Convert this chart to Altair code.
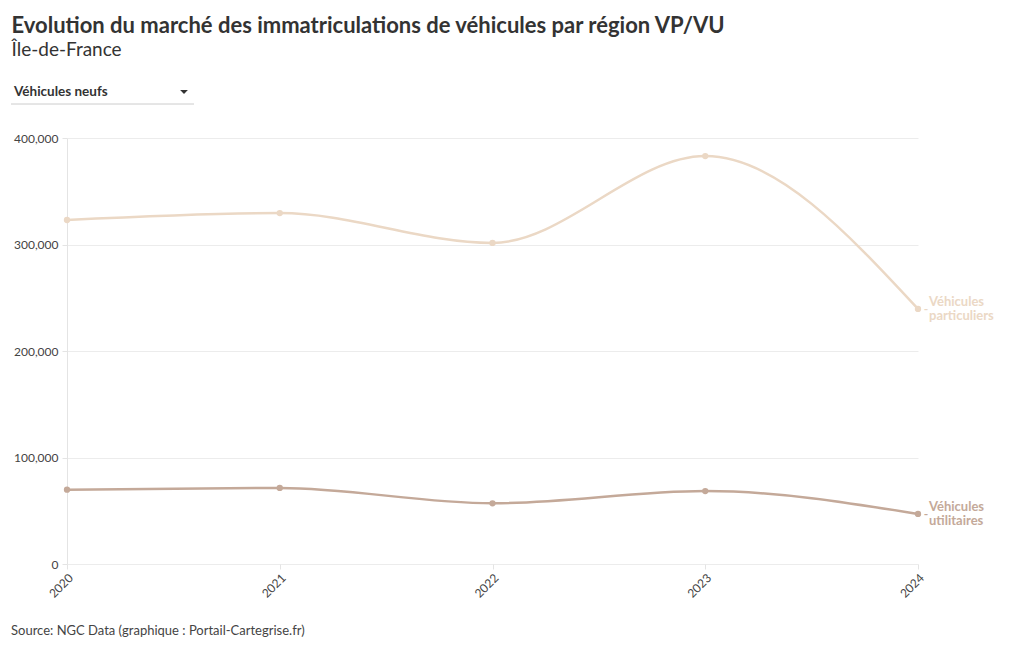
import altair as alt
import pandas as pd

years = ["2020", "2021", "2022", "2023", "2024"]
vp = [323000, 329500, 301500, 383000, 239500]
vu = [69800, 71400, 57000, 68500, 47000]
series_names = ["Véhicules particuliers", "Véhicules utilitaires"]
series_labels = [["Véhicules", "particuliers"], ["Véhicules", "utilitaires"]]
colors = ["#ebd8c5", "#c4a999"]

FONT = "Lato"

rows = []
for y, a, b in zip(years, vp, vu):
    rows.append({"year": y, "value": a, "series": series_names[0]})
    rows.append({"year": y, "value": b, "series": series_names[1]})
df = pd.DataFrame(rows)

last = pd.DataFrame({
    "year": [years[-1], years[-1]],
    "value": [vp[-1], vu[-1]],
    "series": series_names,
    "label": series_labels,
})

color_scale = alt.Scale(domain=series_names, range=colors)

x = alt.X("year:O", title=None, scale=alt.Scale(padding=0),
          axis=alt.Axis(labelAngle=-45, labelFontSize=12, labelColor="#444",
                        labelFont=FONT, domain=False, ticks=True, tickColor="#e4e4e4",
                        tickSize=5, labelPadding=3, grid=False))
y = alt.Y("value:Q", title=None,
          scale=alt.Scale(domain=[0, 400000], nice=False),
          axis=alt.Axis(values=[0, 100000, 200000, 300000, 400000], format=",d",
                        labelFontSize=12, labelColor="#444", labelFont=FONT,
                        grid=True, gridColor="#ececec", domain=True, domainColor="#e4e4e4",
                        ticks=True, tickColor="#e4e4e4", tickSize=5, labelPadding=4))
color = alt.Color("series:N", scale=color_scale, legend=None)

base = alt.Chart(df)
lines = base.mark_line(interpolate="monotone", strokeWidth=2.5).encode(x=x, y=y, color=color)
points = base.mark_circle(size=40, opacity=1).encode(x=x, y=y, color=color)

dash = alt.Chart(last).mark_text(text="-", dx=8, fontSize=12, font=FONT, fontWeight="bold").encode(
    x=x, y=y, color=color)
labels = alt.Chart(last).mark_text(align="left", baseline="middle", dx=11, dy=-7,
                                    fontSize=13, font=FONT, fontWeight="bold",
                                    lineHeight=14).encode(
    x=x, y=y, text="label", color=color)

# dropdown-like control
dd = pd.DataFrame({"t": ["Véhicules neufs"]})
dd_text = alt.Chart(dd).mark_text(align="left", baseline="middle", fontSize=13.5, font=FONT,
                                   fontWeight="bold", color="#333").encode(
    text="t:N", x=alt.value(-53), y=alt.value(-46))
dd_arrow = alt.Chart(dd).mark_point(shape="M-1,-0.5L1,-0.5L0,0.5Z", filled=True, size=60,
                                     color="#333", opacity=1, strokeWidth=0).encode(
    x=alt.value(117), y=alt.value(-46))
dd_line = alt.Chart(dd).mark_rule(color="#cccccc", strokeWidth=1).encode(
    x=alt.value(-56), x2=alt.value(127), y=alt.value(-34))

src = alt.Chart(pd.DataFrame({"t": ["Source: NGC Data (graphique : Portail-Cartegrise.fr)"]})).mark_text(
    align="left", baseline="middle", fontSize=13, font=FONT, color="#444").encode(
    text="t:N", x=alt.value(-56), y=alt.value(493))

chart = alt.layer(lines, points, dash, labels, dd_text, dd_arrow, dd_line, src).properties(
    width=851, height=426,
    padding={"left": 67, "top": 138, "right": 102, "bottom": 86},
    autosize=alt.AutoSizeParams(type="none"),
    background="white",
    title=alt.Title("Evolution du marché des immatriculations de véhicules par région VP/VU",
                    subtitle="Île-de-France", anchor="start", dx=1, offset=24,
                    font=FONT, fontSize=22, fontWeight="bold", color="#333",
                    subtitleFont=FONT, subtitleFontSize=19, subtitleColor="#333",
                    subtitlePadding=3),
).configure_view(strokeWidth=0, stroke="transparent")

chart.save("out.html", embed_options={"renderer": "svg", "actions": False})
